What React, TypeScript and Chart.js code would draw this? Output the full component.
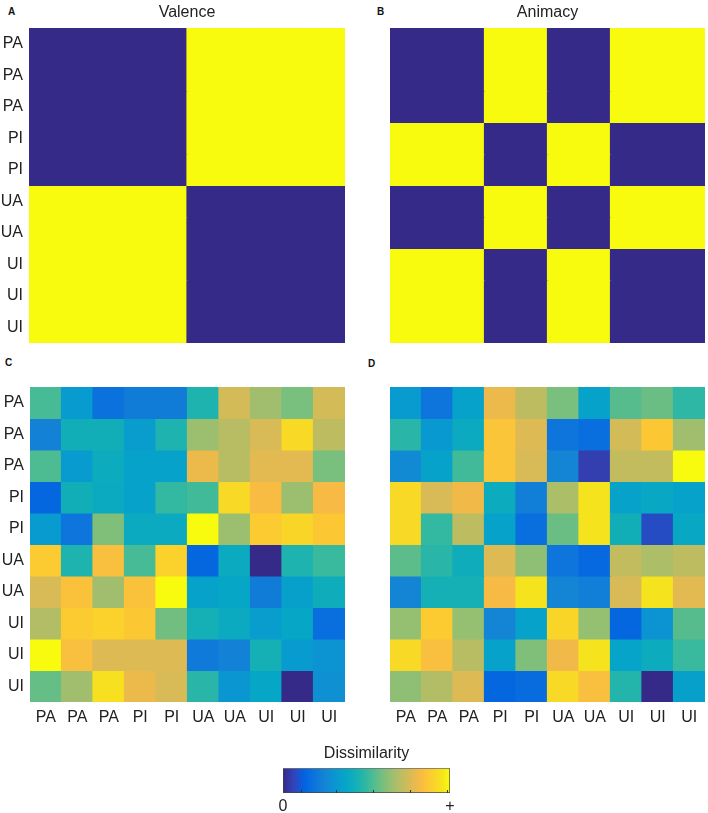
import React, { useEffect, useRef } from "react";
import { Chart, registerables } from "chart.js";
Chart.register(...registerables);

// ---------- data ----------
const conditionLabels = ["PA", "PA", "PA", "PI", "PI", "UA", "UA", "UI", "UI", "UI"];

const valenceRdm = [
  [0, 0, 0, 0, 0, 1, 1, 1, 1, 1],
  [0, 0, 0, 0, 0, 1, 1, 1, 1, 1],
  [0, 0, 0, 0, 0, 1, 1, 1, 1, 1],
  [0, 0, 0, 0, 0, 1, 1, 1, 1, 1],
  [0, 0, 0, 0, 0, 1, 1, 1, 1, 1],
  [1, 1, 1, 1, 1, 0, 0, 0, 0, 0],
  [1, 1, 1, 1, 1, 0, 0, 0, 0, 0],
  [1, 1, 1, 1, 1, 0, 0, 0, 0, 0],
  [1, 1, 1, 1, 1, 0, 0, 0, 0, 0],
  [1, 1, 1, 1, 1, 0, 0, 0, 0, 0],
];

const animacyRdm = [
  [0, 0, 0, 1, 1, 0, 0, 1, 1, 1],
  [0, 0, 0, 1, 1, 0, 0, 1, 1, 1],
  [0, 0, 0, 1, 1, 0, 0, 1, 1, 1],
  [1, 1, 1, 0, 0, 1, 1, 0, 0, 0],
  [1, 1, 1, 0, 0, 1, 1, 0, 0, 0],
  [0, 0, 0, 1, 1, 0, 0, 1, 1, 1],
  [0, 0, 0, 1, 1, 0, 0, 1, 1, 1],
  [1, 1, 1, 0, 0, 1, 1, 0, 0, 0],
  [1, 1, 1, 0, 0, 1, 1, 0, 0, 0],
  [1, 1, 1, 0, 0, 1, 1, 0, 0, 0],
];

const rdmC = [
  [0.53, 0.33, 0.18, 0.22, 0.22, 0.46, 0.75, 0.66, 0.6, 0.75],
  [0.24, 0.43, 0.43, 0.34, 0.46, 0.65, 0.7, 0.76, 0.92, 0.71],
  [0.54, 0.33, 0.41, 0.36, 0.36, 0.8, 0.7, 0.78, 0.78, 0.6],
  [0.14, 0.43, 0.4, 0.36, 0.5, 0.52, 0.92, 0.83, 0.65, 0.82],
  [0.33, 0.19, 0.61, 0.4, 0.4, 1.0, 0.65, 0.88, 0.91, 0.87],
  [0.88, 0.46, 0.84, 0.53, 0.9, 0.14, 0.4, 0.0, 0.46, 0.51],
  [0.76, 0.85, 0.66, 0.85, 1.0, 0.36, 0.38, 0.22, 0.35, 0.42],
  [0.69, 0.88, 0.9, 0.87, 0.59, 0.44, 0.4, 0.34, 0.38, 0.17],
  [1.0, 0.84, 0.77, 0.77, 0.77, 0.21, 0.24, 0.44, 0.33, 0.3],
  [0.57, 0.66, 0.94, 0.8, 0.76, 0.48, 0.31, 0.38, 0.0, 0.29],
];

const rdmD = [
  [0.33, 0.19, 0.36, 0.8, 0.71, 0.6, 0.36, 0.55, 0.58, 0.49],
  [0.48, 0.32, 0.4, 0.86, 0.77, 0.19, 0.17, 0.75, 0.87, 0.66],
  [0.27, 0.36, 0.52, 0.86, 0.76, 0.25, 0.05, 0.72, 0.72, 1.0],
  [0.92, 0.76, 0.81, 0.41, 0.23, 0.68, 0.95, 0.36, 0.39, 0.36],
  [0.92, 0.5, 0.71, 0.36, 0.17, 0.58, 0.95, 0.43, 0.08, 0.39],
  [0.56, 0.48, 0.42, 0.77, 0.63, 0.19, 0.15, 0.72, 0.68, 0.71],
  [0.25, 0.44, 0.44, 0.82, 0.95, 0.25, 0.23, 0.76, 0.95, 0.78],
  [0.64, 0.88, 0.64, 0.25, 0.36, 0.91, 0.64, 0.14, 0.3, 0.55],
  [0.92, 0.84, 0.7, 0.36, 0.61, 0.81, 0.95, 0.37, 0.41, 0.51],
  [0.63, 0.69, 0.77, 0.14, 0.16, 0.92, 0.84, 0.47, 0.0, 0.35],
];

const colorbarTickValues = [0.11, 0.32, 0.54, 0.76, 0.98];
const colorbarLabelValues = [0, 1];
const colorbarLabels = ["0", "+"];

// parula colormap stops: [position, r, g, b] (0..1)
const parulaStops: number[][] = [
  [0 / 63, 0.2081, 0.1663, 0.5292],
  [4 / 63, 0.1959, 0.2645, 0.7279],
  [8 / 63, 0.0117, 0.3875, 0.882],
  [12 / 63, 0.0498, 0.4586, 0.8641],
  [16 / 63, 0.0793, 0.52, 0.8312],
  [20 / 63, 0.0343, 0.5966, 0.8199],
  [24 / 63, 0.0228, 0.6535, 0.7768],
  [28 / 63, 0.0843, 0.6928, 0.7062],
  [32 / 63, 0.2178, 0.725, 0.6193],
  [36 / 63, 0.3953, 0.7459, 0.5244],
  [40 / 63, 0.5709, 0.7485, 0.4494],
  [44 / 63, 0.7184, 0.7411, 0.3905],
  [48 / 63, 0.8507, 0.7299, 0.336],
  [52 / 63, 0.9739, 0.7314, 0.2666],
  [56 / 63, 0.988, 0.8066, 0.1794],
  [60 / 63, 0.9589, 0.8949, 0.1132],
  [63 / 63, 0.9763, 0.9831, 0.0538],
];

function stopColor(s: number[]) {
  return `rgb(${Math.round(s[1] * 255)},${Math.round(s[2] * 255)},${Math.round(s[3] * 255)})`;
}

function parula(v: number): string {
  const t = Math.max(0, Math.min(1, v));
  for (let i = 1; i < parulaStops.length; i++) {
    const a = parulaStops[i - 1];
    const b = parulaStops[i];
    if (t <= b[0]) {
      const f = (t - a[0]) / (b[0] - a[0] || 1);
      const r = a[1] + (b[1] - a[1]) * f;
      const g = a[2] + (b[2] - a[2]) * f;
      const bl = a[3] + (b[3] - a[3]) * f;
      return `rgb(${Math.round(r * 255)},${Math.round(g * 255)},${Math.round(bl * 255)})`;
    }
  }
  return stopColor(parulaStops[parulaStops.length - 1]);
}

const FONT = '"Liberation Sans", Arial, Helvetica, sans-serif';
const TEXT = "#222";

type HeatProps = {
  matrix: number[][];
  left: number;
  top: number;
  plotW: number;
  plotH: number;
  yAxisW: number;
  xAxisH: number;
  titleH: number;
  title?: string;
  showY: boolean;
  showX: boolean;
};

function Heatmap(p: HeatProps) {
  const ref = useRef<HTMLCanvasElement | null>(null);
  const width = p.plotW + (p.showY ? p.yAxisW : 0);
  const height = p.plotH + (p.showX ? p.xAxisH : 0) + p.titleH;
  useEffect(() => {
    if (!ref.current) return;
    const chart = new Chart(ref.current, {
      type: "bar",
      data: {
        labels: conditionLabels,
        datasets: p.matrix.map((row) => ({
          data: row.map(() => 1),
          backgroundColor: row.map((v) => parula(v)),
          borderWidth: 0,
          inflateAmount: 0.6,
          barPercentage: 1,
          categoryPercentage: 1,
        })),
      },
      options: {
        responsive: false,
        animation: false,
        devicePixelRatio: 1,
        layout: { padding: 0 },
        events: [],
        plugins: {
          legend: { display: false },
          tooltip: { enabled: false },
          title: p.title
            ? {
                display: true,
                text: p.title,
                fullSize: false,
                color: TEXT,
                font: { family: FONT, size: 16, weight: "normal", lineHeight: 1.2 },
                padding: { top: 3, bottom: p.titleH - 3 - 19.2 },
              }
            : { display: false },
        },
        scales: {
          x: {
            stacked: true,
            display: p.showX,
            grid: { display: false, drawTicks: false },
            border: { display: false },
            ticks: {
              color: TEXT,
              font: { family: FONT, size: 16 },
              padding: 6,
              autoSkip: false,
              maxRotation: 0,
            },
            afterFit: (s: any) => {
              s.height = p.xAxisH;
              s.paddingLeft = 0;
              s.paddingRight = 0;
            },
          },
          y: {
            stacked: true,
            min: 0,
            max: 10,
            reverse: true,
            display: p.showY,
            grid: { display: false, drawTicks: false },
            border: { display: false },
            afterBuildTicks: (axis: any) => {
              axis.ticks = conditionLabels.map((_, i) => ({ value: i + 0.5 }));
            },
            ticks: {
              color: TEXT,
              font: { family: FONT, size: 16 },
              padding: 6,
              autoSkip: false,
              callback: (_v: any, i: number) => conditionLabels[i],
            },
            afterFit: (s: any) => {
              s.width = p.yAxisW;
              s.paddingTop = 0;
              s.paddingBottom = 0;
            },
          },
        },
      } as any,
    });
    return () => chart.destroy();
  }, []);
  return (
    <canvas
      ref={ref}
      width={width}
      height={height}
      style={{
        position: "absolute",
        left: p.left - (p.showY ? p.yAxisW : 0),
        top: p.top - p.titleH,
        width,
        height,
      }}
    />
  );
}

function Colorbar() {
  const ref = useRef<HTMLCanvasElement | null>(null);
  const plotLeft = 283;
  const plotTop = 768;
  const plotW = 167;
  const plotH = 24;
  const pad = 20;
  const titleH = 28.2;
  const axisH = 22;
  const width = plotW + pad * 2;
  const height = Math.ceil(titleH + plotH + axisH);
  useEffect(() => {
    if (!ref.current) return;
    const tickPlugin = {
      id: "innerTicks",
      afterDatasetsDraw(chart: any) {
        const ctx = chart.ctx;
        const xs = chart.scales.x;
        const area = chart.chartArea;
        ctx.save();
        ctx.strokeStyle = "#333";
        ctx.lineWidth = 1;
        colorbarTickValues.forEach((v) => {
          const x = Math.round(xs.getPixelForValue(v)) + 0.5;
          ctx.beginPath();
          ctx.moveTo(x, area.bottom);
          ctx.lineTo(x, area.bottom - 3);
          ctx.stroke();
        });
        ctx.restore();
      },
    };
    const chart = new Chart(ref.current, {
      type: "bar",
      data: {
        labels: [""],
        datasets: [
          {
            data: [1],
            backgroundColor: (c: any) => {
              const area = c.chart.chartArea;
              if (!area) return parula(0.5);
              const g = c.chart.ctx.createLinearGradient(area.left, 0, area.right, 0);
              parulaStops.forEach((s) => g.addColorStop(s[0], stopColor(s)));
              return g;
            },
            borderColor: "#444",
            borderWidth: 1,
            borderSkipped: false,
            barPercentage: 1,
            categoryPercentage: 1,
          },
        ],
      },
      options: {
        indexAxis: "y",
        responsive: false,
        animation: false,
        devicePixelRatio: 1,
        events: [],
        layout: { padding: { left: pad, right: pad, top: 0, bottom: 0 } },
        plugins: {
          legend: { display: false },
          tooltip: { enabled: false },
          title: {
            display: true,
            text: "Dissimilarity",
            color: TEXT,
            font: { family: FONT, size: 16, weight: "normal", lineHeight: 1.2 },
            padding: { top: 4, bottom: 5 },
          },
        },
        scales: {
          x: {
            min: 0,
            max: 1,
            grid: { display: false, drawTicks: false },
            border: { display: false },
            afterBuildTicks: (axis: any) => {
              axis.ticks = colorbarLabelValues.map((v) => ({ value: v }));
            },
            ticks: {
              color: TEXT,
              font: { family: FONT, size: 16 },
              padding: 4,
              maxRotation: 0,
              autoSkip: false,
              callback: (_v: any, i: number) => colorbarLabels[i],
            },
            afterFit: (s: any) => {
              s.height = axisH;
              s.paddingLeft = 0;
              s.paddingRight = 0;
            },
          },
          y: { display: false },
        },
      } as any,
      plugins: [tickPlugin],
    });
    return () => chart.destroy();
  }, []);
  return (
    <canvas
      ref={ref}
      width={width}
      height={height}
      style={{
        position: "absolute",
        left: plotLeft - pad,
        top: plotTop - titleH,
        width,
        height,
      }}
    />
  );
}

const letterStyle: React.CSSProperties = {
  position: "absolute",
  fontFamily: FONT,
  fontWeight: "bold",
  fontSize: 10,
  lineHeight: "10px",
  color: "#111",
};

export default function App() {
  return (
    <div
      style={{
        position: "absolute",
        left: 0,
        top: 0,
        width: 708,
        height: 813,
        background: "#fff",
        overflow: "hidden",
      }}
    >
      <div style={{ ...letterStyle, left: 8, top: 7 }}>A</div>
      <div style={{ ...letterStyle, left: 377, top: 7 }}>B</div>
      <div style={{ ...letterStyle, left: 5, top: 358 }}>C</div>
      <div style={{ ...letterStyle, left: 368, top: 359 }}>D</div>
      <Heatmap matrix={valenceRdm} left={29} top={28} plotW={316} plotH={315} yAxisW={29} xAxisH={0} titleH={28} title="Valence" showY={true} showX={false} />
      <Heatmap matrix={animacyRdm} left={390} top={28} plotW={315} plotH={315} yAxisW={0} xAxisH={0} titleH={28} title="Animacy" showY={false} showX={false} />
      <Heatmap matrix={rdmC} left={30} top={387} plotW={315} plotH={315} yAxisW={30} xAxisH={30} titleH={0} showY={true} showX={true} />
      <Heatmap matrix={rdmD} left={390} top={387} plotW={315} plotH={315} yAxisW={0} xAxisH={30} titleH={0} showY={false} showX={true} />
      <Colorbar />
    </div>
  );
}
